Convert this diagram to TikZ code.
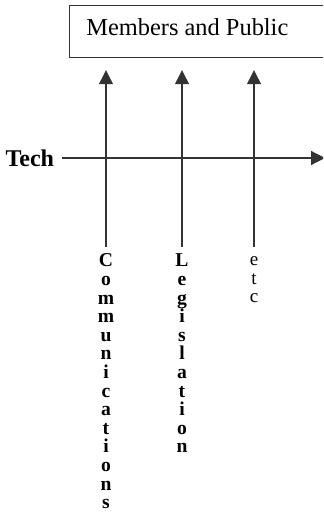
\documentclass[tikz,border=0pt]{standalone}
\usepackage{fontspec}
\setmainfont{Liberation Serif}
\usetikzlibrary{arrows.meta,positioning,calc}
\definecolor{lineg}{HTML}{333333}
\tikzset{
  hdr/.style={draw=lineg,line width=0.6pt,minimum width=200pt,minimum height=26pt,inner sep=0pt},
  vlab/.style={align=center,inner sep=0pt,outer sep=0pt,font=\bfseries\fontsize{9.8}{9.3}\selectfont},
  vlabr/.style={vlab,font=\fontsize{9.5}{9.2}\selectfont},
  ar/.style={-{Triangle[length=7pt,width=7pt]},draw=lineg,line width=0.6pt},
}
\begin{document}
\begin{tikzpicture}[x=0.5pt,y=-0.5pt]
    \clip (0,0) rectangle (323,514);
    \node[hdr,anchor=north west] (box) at (69,5) {};
    \node[anchor=base west,font=\fontsize{12.2}{14}\selectfont,inner sep=0pt] (title) at (86,35) {Members and Public};
    \node[anchor=east,font=\bfseries\fontsize{12}{14}\selectfont,inner sep=0pt,outer sep=4pt] (tech) at (62,158) {Tech};
    \coordinate (axisend) at (325,158);
    \node[vlab,anchor=north] (comm) at (106,254) {C\\o\\m\\m\\u\\n\\i\\c\\a\\t\\i\\o\\n\\s};
    \node[vlab,anchor=north] (legis) at (182,254) {L\\e\\g\\i\\s\\l\\a\\t\\i\\o\\n};
    \node[vlabr,anchor=north] (etc) at (254,257) {e\\t\\c};
    \draw[ar] (tech.east) -- (axisend);
    \draw[ar] (comm.north) ++(0,-7) -- ($(comm.north |- box.south)+(0,12)$);
    \draw[ar] (legis.north) ++(0,-7) -- ($(legis.north |- box.south)+(0,12)$);
    \draw[ar] (etc.north) ++(0,-10) -- ($(etc.north |- box.south)+(0,12)$);
  \end{tikzpicture}
\end{document}
